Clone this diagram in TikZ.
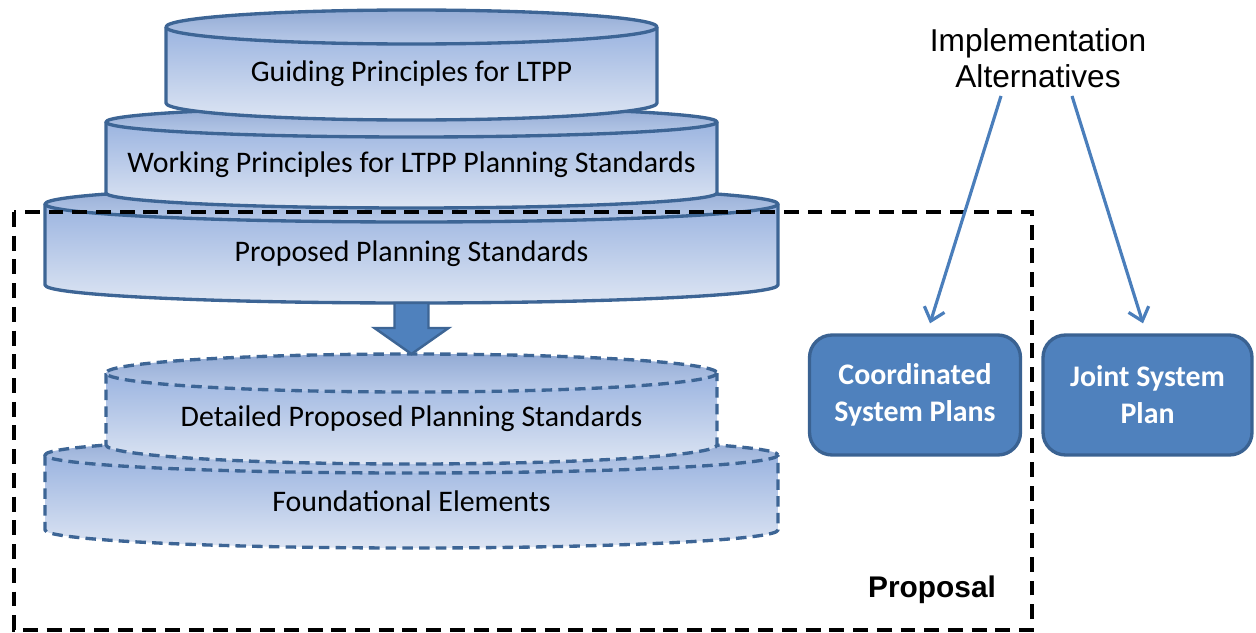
\documentclass[tikz,border=0pt]{standalone}
\usepackage{fontspec}
\setmainfont{Carlito}
\newfontfamily\arialfont{Liberation Sans}
\usetikzlibrary{arrows.meta}

\definecolor{tierblue}{HTML}{3D6595}
\definecolor{tiertop}{HTML}{9BB4E0}
\definecolor{tierbottom}{HTML}{DDE5F3}
\definecolor{planfill}{HTML}{4F81BD}
\definecolor{planline}{HTML}{3A6292}
\definecolor{altline}{HTML}{4A7EBB}

% centre line of the stacked layers
\newcommand{\layerx}{411.5}

% one layer of the stack: #2 name, #3 rim y, #4 base y, #5 half width, #6 rim radius, #7 label
\newcommand{\cakelayer}[7][tier]{%
  \shade[top color=tiertop, bottom color=tierbottom]
    (\layerx-#5,#3) -- (\layerx-#5,#4) arc[start angle=180, end angle=0, x radius=#5, y radius=#6]
    -- (\layerx+#5,#3) -- cycle;
  \draw[#1] (\layerx-#5,#3) -- (\layerx-#5,#4)
    arc[start angle=180, end angle=0, x radius=#5, y radius=#6] -- (\layerx+#5,#3);
  \shade[top color=tiertop!95!black, bottom color=tiertop!55!tierbottom]
    (\layerx,#3) ellipse [x radius=#5, y radius=#6];
  \draw[#1] (\layerx,#3) ellipse [x radius=#5, y radius=#6];
  \coordinate (#2-top) at (\layerx,#3-#6);
  \coordinate (#2-bot) at (\layerx,#4+#6);
  \node[tierlabel] (#2) at (\layerx,{(#3+#4+#6)/2}) {#7};
}

\tikzset{
    %Define style for the layer outlines
    tier/.style={
           draw=tierblue,
           line width=1.9pt,
           line join=round},
    planned/.style={
           tier,
           dash pattern=on 6pt off 3.5pt},
    tierlabel/.style={
           inner sep=0pt,
           font=\fontsize{17}{20}\selectfont},
    bigarrow/.style={
           fill=planfill,
           draw=tierblue,
           line width=1.4pt,
           line join=miter},
    proposalbox/.style={
           draw=black,
           line width=2.1pt,
           dash pattern=on 8.5pt off 5pt},
    %Define style for the plan boxes
    plan/.style={
           rectangle,
           rounded corners=0.45cm,
           fill=planfill,
           draw=planline,
           line width=1.9pt,
           minimum height=2.4cm,
           align=center,
           text=white,
           font=\fontsize{17}{21}\selectfont\bfseries},
    % Define arrow style
    altarrow/.style={
           -{Straight Barb[length=7pt,width=12pt]},
           draw=altline,
           line width=1.8pt}
}

\begin{document}
\begin{tikzpicture}[x=0.02cm,y=-0.02cm]
\useasboundingbox (0,0) rectangle (1256,632);

 %upper stack
\cakelayer{prop}{204}{285}{366.5}{18}{Proposed Planning Standards}
\cakelayer{work}{122}{193}{305.5}{15}{Working Principles for LTPP Planning Standards}
\cakelayer{guide}{27}{103}{245.5}{17}{Guiding Principles for LTPP}

 %lower stack
\cakelayer[planned]{found}{455}{530}{366.5}{18}{Foundational Elements}
\cakelayer[planned]{detail}{373}{445}{305.5}{19}{Detailed Proposed Planning Standards}

\draw[bigarrow] ([shift={(-17,0)}]prop-bot) -- ([shift={(-17,25)}]prop-bot)
  -- ([shift={(-37,25)}]prop-bot) -- (detail-top) -- ([shift={(37,25)}]prop-bot)
  -- ([shift={(17,25)}]prop-bot) -- ([shift={(17,0)}]prop-bot) -- cycle;

\draw[proposalbox] (14,212) rectangle (1032,630);
\node[font=\arialfont\fontsize{17}{20}\selectfont\bfseries] (proposal) at (932,590) {Proposal};

 %alternatives
\node[plan, minimum width=4.22cm] (coord) at (915,395) {Coordinated\\System Plans};
\node[plan, minimum width=4.18cm] (joint) at (1147.5,395) {Joint System\\Plan};
\node[align=center, inner sep=0pt, font=\arialfont\fontsize{18}{20.5}\selectfont] (alt) at (1038,58)
  {Implementation\\Alternatives};

\draw[altarrow] ([shift={(-37,8)}]alt.south) -- ([shift={(15,-10)}]coord.north);
\draw[altarrow] ([shift={(34,8)}]alt.south) -- ([shift={(-4.5,-10)}]joint.north);
\end{tikzpicture}
\end{document}
